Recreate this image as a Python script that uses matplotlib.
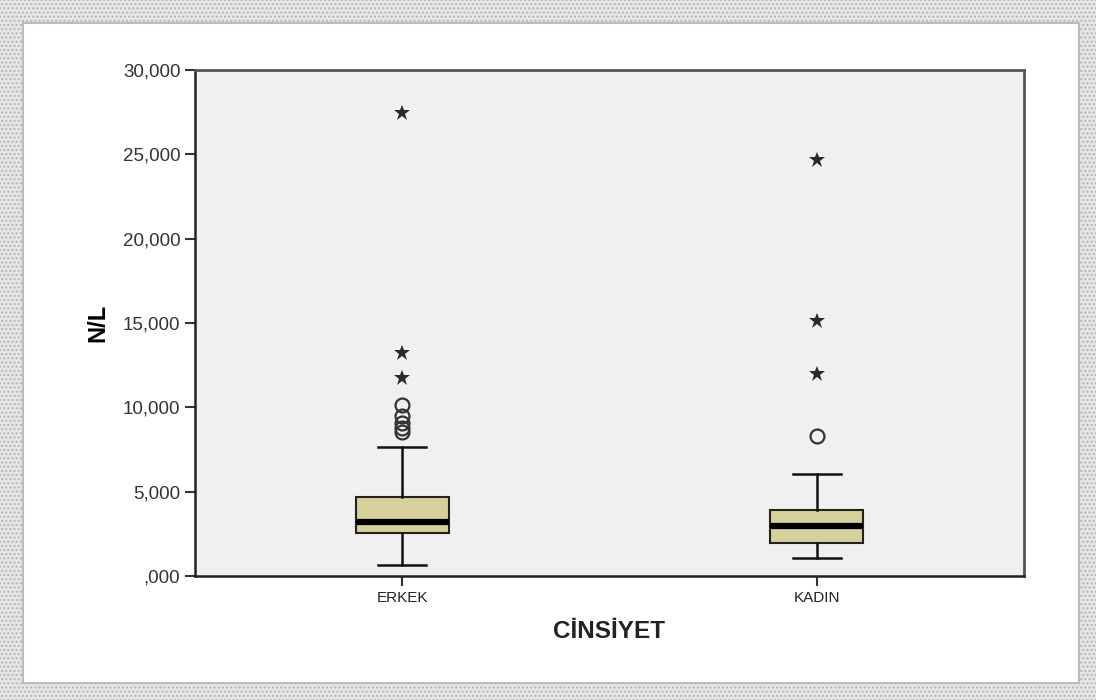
import numpy as np
import matplotlib.pyplot as plt
from matplotlib.patches import Rectangle
from matplotlib.ticker import FuncFormatter

plt.rcParams['font.family'] = ['Liberation Sans', 'DejaVu Sans']

# data (N/L ratio)
groups = ['ERKEK', 'KADIN']
q1 = [2.549, 1.956]
med = [3.201, 2.964]
q3 = [4.683, 3.912]
whislo = [0.652, 1.067]
whishi = [7.647, 6.046]
circles = [[10.136, 9.484, 9.070, 8.773, 8.536], [8.299]]
stars = [[27.445, 13.219, 11.737], [24.659, 15.115, 11.974]]
yticks = [0, 5, 10, 15, 20, 25, 30]


def fmt(v, pos):
    # SPSS style with decimal comma, no leading zero
    s = '{:.3f}'.format(v).replace('.', ',')
    return s[1:] if s.startswith('0') else s


fig = plt.figure(figsize=(10.96, 7.0), dpi=100)
fig.patch.set_facecolor('white')
# dotted frame like the original screenshot
fig.patches.append(Rectangle((0, 0), 1, 1, transform=fig.transFigure,
                             facecolor='#e6e6e6', edgecolor='#b4b4b4',
                             hatch='....', lw=0, zorder=-3))
fig.patches.append(Rectangle((23 / 1096, 17 / 700), 1056 / 1096, 660 / 700,
                             transform=fig.transFigure, facecolor='white',
                             edgecolor='#bbbbbb', lw=1.5, zorder=-2))

ax = fig.add_axes([195 / 1096, 1 - 576 / 700, 829 / 1096, 506 / 700])
ax.set_facecolor('#f0f0f0')

stats = []
for i, g in enumerate(groups):
    stats.append({'label': g, 'q1': q1[i], 'med': med[i], 'q3': q3[i],
                  'whislo': whislo[i], 'whishi': whishi[i], 'fliers': []})

pos = [1, 2]
ax.bxp(stats, positions=pos, widths=0.225, patch_artist=True,
       showfliers=False,
       boxprops=dict(facecolor='#d6d09a', edgecolor='#222222', lw=1.5),
       medianprops=dict(color='black', lw=4.5),
       whiskerprops=dict(color='#111111', lw=1.8),
       capprops=dict(color='#111111', lw=1.8),
       capwidths=0.116)

for i in range(len(groups)):
    ax.plot([pos[i]] * len(circles[i]), circles[i], 'o', ms=10,
            mfc='none', mec='#333333', mew=1.6)
    ax.plot([pos[i]] * len(stars[i]), stars[i], '*', ls='none', ms=12,
            color='#2a2a2a', mew=0)

ax.set_xlim(0.5, 2.5)
ax.set_ylim(0, 30)
ax.set_yticks(yticks)
ax.yaxis.set_major_formatter(FuncFormatter(fmt))
ax.set_xticks(pos)
ax.set_xticklabels(groups)
ax.tick_params(axis='y', labelsize=13.5, length=7, width=1.5,
               colors='#333333', labelcolor='#333333')
ax.tick_params(axis='x', labelsize=11, length=7, width=1.5,
               colors='#333333', labelcolor='#222222')

for s in ['left', 'bottom']:
    ax.spines[s].set_color('#222222')
    ax.spines[s].set_linewidth(1.8)
for s in ['top', 'right']:
    ax.spines[s].set_color('#555555')
    ax.spines[s].set_linewidth(2.0)

ax.set_ylabel('N/L', fontsize=17, fontweight='bold', labelpad=10)
ax.set_xlabel('CİNSİYET', fontsize=17.5, fontweight='bold', labelpad=11,
              color='#222222')

fig.savefig('out.png', dpi=100)
